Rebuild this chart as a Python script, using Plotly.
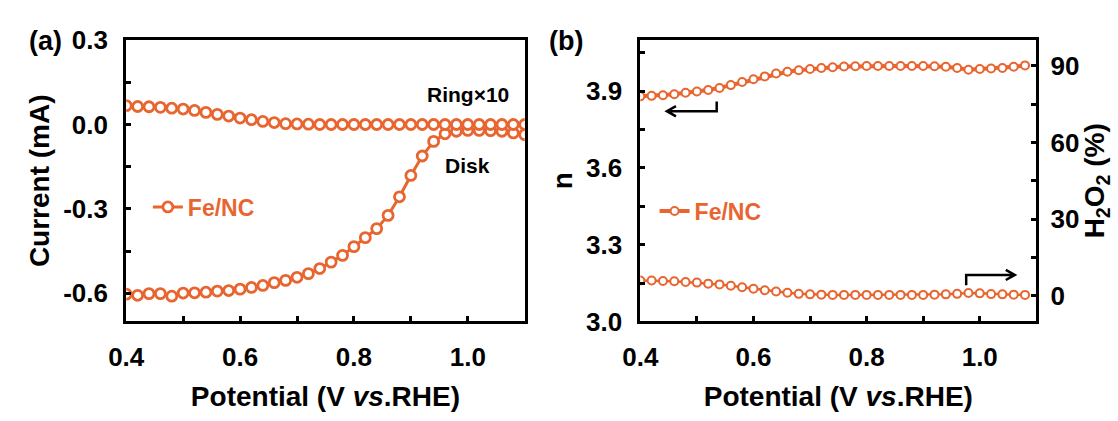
import plotly.graph_objects as go

# ---------------- data ----------------
potential_a = [0.40, 0.42, 0.44, 0.46, 0.48, 0.50, 0.52, 0.54, 0.56, 0.58,
               0.60, 0.62, 0.64, 0.66, 0.68, 0.70, 0.72, 0.74, 0.76, 0.78,
               0.80, 0.82, 0.84, 0.86, 0.88, 0.90, 0.92, 0.94, 0.96, 0.98,
               1.00, 1.02, 1.04, 1.06, 1.08, 1.10]
disk_current = [-0.603, -0.607, -0.601, -0.601, -0.610, -0.599, -0.598, -0.596, -0.592, -0.590,
                -0.585, -0.579, -0.572, -0.562, -0.554, -0.543, -0.530, -0.512, -0.489, -0.465,
                -0.434, -0.402, -0.370, -0.323, -0.257, -0.181, -0.112, -0.060, -0.033, -0.024,
                -0.021, -0.021, -0.022, -0.024, -0.030, -0.036]
ring_current_x10 = [0.067, 0.064, 0.063, 0.061, 0.058, 0.055, 0.050, 0.043, 0.036, 0.030,
                    0.023, 0.017, 0.011, 0.007, 0.003, 0.002, 0.001, 0.000, 0.000, 0.000,
                    0.000, 0.000, 0.000, 0.000, 0.000, 0.000, 0.000, 0.000, 0.000, 0.000,
                    0.000, 0.000, 0.000, 0.000, 0.000, 0.000]

potential_b = [0.40, 0.42, 0.44, 0.46, 0.48, 0.50, 0.52, 0.54, 0.56, 0.58,
               0.60, 0.62, 0.64, 0.66, 0.68, 0.70, 0.72, 0.74, 0.76, 0.78,
               0.80, 0.82, 0.84, 0.86, 0.88, 0.90, 0.92, 0.94, 0.96, 0.98,
               1.00, 1.02, 1.04, 1.06, 1.08]
electron_n = [3.880, 3.882, 3.884, 3.888, 3.894, 3.899, 3.905, 3.913, 3.924, 3.936,
              3.947, 3.958, 3.969, 3.976, 3.982, 3.987, 3.991, 3.994, 3.997, 3.998,
              3.999, 3.999, 3.999, 3.999, 3.999, 3.999, 3.998, 3.996, 3.991, 3.984,
              3.987, 3.989, 3.991, 3.996, 4.001]
h2o2_pct = [6.0, 6.0, 5.8, 5.7, 5.4, 5.2, 4.8, 4.5, 4.0, 3.4,
            2.8, 2.2, 1.7, 1.2, 0.8, 0.6, 0.5, 0.4, 0.4, 0.4,
            0.4, 0.4, 0.4, 0.4, 0.4, 0.4, 0.5, 0.6, 0.8, 1.1,
            1.0, 0.7, 0.6, 0.5, 0.4]

x_ticks = [0.4, 0.6, 0.8, 1.0]
x_ticklabels = ["0.4", "0.6", "0.8", "1.0"]
ya_ticks = [-0.6, -0.3, 0.0, 0.3]
ya_ticklabels = ["-0.6", "-0.3", "0.0", "0.3"]
yn_ticks = [3.0, 3.3, 3.6, 3.9]
yn_ticklabels = ["3.0", "3.3", "3.6", "3.9"]
yh_ticks = [0, 30, 60, 90]
yh_ticklabels = ["0", "30", "60", "90"]

# ---------------- style ----------------
ORANGE = "#E9652F"
FONT = "Liberation Sans"
W, H = 1118, 421

fig = go.Figure()

mk_a = dict(symbol="circle", size=10, color="white", line=dict(color=ORANGE, width=2.8))
fig.add_trace(go.Scatter(x=potential_a, y=disk_current, mode="lines+markers", name="Fe/NC",
                         line=dict(color=ORANGE, width=3), marker=mk_a,
                         xaxis="x", yaxis="y", legend="legend"))
fig.add_trace(go.Scatter(x=potential_a, y=ring_current_x10, mode="lines+markers", showlegend=False,
                         line=dict(color=ORANGE, width=3), marker=mk_a,
                         xaxis="x", yaxis="y"))

mk_b = dict(symbol="circle", size=8, color="white", line=dict(color=ORANGE, width=2))
fig.add_trace(go.Scatter(x=potential_b, y=electron_n, mode="lines+markers", name="Fe/NC",
                         line=dict(color=ORANGE, width=4), marker=mk_b,
                         xaxis="x2", yaxis="y2", legend="legend2"))
fig.add_trace(go.Scatter(x=potential_b, y=h2o2_pct, mode="lines+markers", showlegend=False,
                         line=dict(color=ORANGE, width=2.5), marker=mk_b,
                         xaxis="x2", yaxis="y3"))

tickfont = dict(family=FONT, size=26, color="black", weight="bold")
titlefont = dict(family=FONT, size=28, color="black", weight="bold")
ydom = [1 - 330 / H, 1 - 27 / H]

def common(**kw):
    d = dict(showline=True, linewidth=3, linecolor="black", mirror=True,
             showgrid=False, zeroline=False, ticks="inside", ticklen=5,
             tickwidth=3, tickcolor="black", tickfont=tickfont, ticklabelstandoff=10)
    d.update(kw)
    return d

minor = lambda dt, t0: dict(dtick=dt, tick0=t0, ticks="inside", ticklen=5,
                            tickwidth=3, tickcolor="black", showgrid=False)

fig.update_layout(
    width=W, height=H, margin=dict(l=0, r=0, t=0, b=0),
    paper_bgcolor="white", plot_bgcolor="white",
    font=dict(family=FONT),
    xaxis=common(domain=[110 / W, 515 / W], anchor="y", range=[0.4, 1.1],
                 tickvals=x_ticks, ticktext=x_ticklabels, minor=minor(0.1, 0.4),
                 title=dict(text="Potential (V <i>vs</i>.RHE)", font=titlefont, standoff=16)),
    yaxis=common(domain=ydom, anchor="x", range=[-0.70, 0.30],
                 tickvals=ya_ticks, ticktext=ya_ticklabels, minor=minor(0.15, 0.0),
                 title=dict(text="Current (mA)", font=titlefont, standoff=6)),
    xaxis2=common(domain=[632.5 / W, 1035 / W], anchor="y2", range=[0.4, 1.1],
                  tickvals=x_ticks, ticktext=x_ticklabels, minor=minor(0.1, 0.4),
                  title=dict(text="Potential (V <i>vs</i>.RHE)", font=titlefont, standoff=16)),
    yaxis2=common(domain=ydom, anchor="x2", range=[3.0, 4.1],
                  tickvals=yn_ticks, ticktext=yn_ticklabels, minor=minor(0.15, 3.0),
                  title=dict(text="n", font=titlefont, standoff=6)),
    yaxis3=common(overlaying="y2", side="right", anchor="x2", range=[-10, 100], mirror=False,
                  tickvals=yh_ticks, ticktext=yh_ticklabels, minor=minor(15, 0),
                  ticklabelstandoff=6,
                  title=dict(text="H<sub>2</sub>O<sub>2</sub> (%)", font=titlefont, standoff=4)),
    legend=dict(x=132 / W, y=1 - 206.7 / H, xanchor="left", yanchor="middle",
                bgcolor="rgba(0,0,0,0)", font=dict(family=FONT, size=23, color=ORANGE, weight="bold")),
    legend2=dict(x=647 / W, y=1 - 211 / H, xanchor="left", yanchor="middle",
                 bgcolor="rgba(0,0,0,0)", font=dict(family=FONT, size=23, color=ORANGE, weight="bold")),
)

lab = dict(family=FONT, size=27, color="black", weight="bold")
ann = dict(family=FONT, size=21, color="black", weight="bold")
fig.add_annotation(text="(a)", x=28 / W, y=1 - 28 / H, xref="paper", yref="paper",
                   xanchor="center", yanchor="middle", showarrow=False, font=lab)
fig.add_annotation(text="(b)", x=557 / W, y=1 - 28 / H, xref="paper", yref="paper",
                   xanchor="center", yanchor="middle", showarrow=False, font=lab)
fig.add_annotation(text="Ring×10", x=1.0, y=0.108, xref="x", yref="y", showarrow=False, font=ann)
fig.add_annotation(text="Disk", x=1.0, y=-0.145, xref="x", yref="y", showarrow=False, font=ann)

# direction arrows (panel b) drawn as open-headed paths
fig.add_shape(type="path", xref="x2", yref="y2",
              path="M 0.535,3.860 L 0.535,3.822 L 0.447,3.822 M 0.463,3.842 L 0.447,3.822 L 0.463,3.802",
              line=dict(color="black", width=2.5))
fig.add_shape(type="path", xref="x2", yref="y3",
              path="M 0.976,4.2 L 0.976,8.2 L 1.062,8.2 M 1.046,10.2 L 1.062,8.2 L 1.046,6.2",
              line=dict(color="black", width=2.5))

fig.write_html("out.html")
